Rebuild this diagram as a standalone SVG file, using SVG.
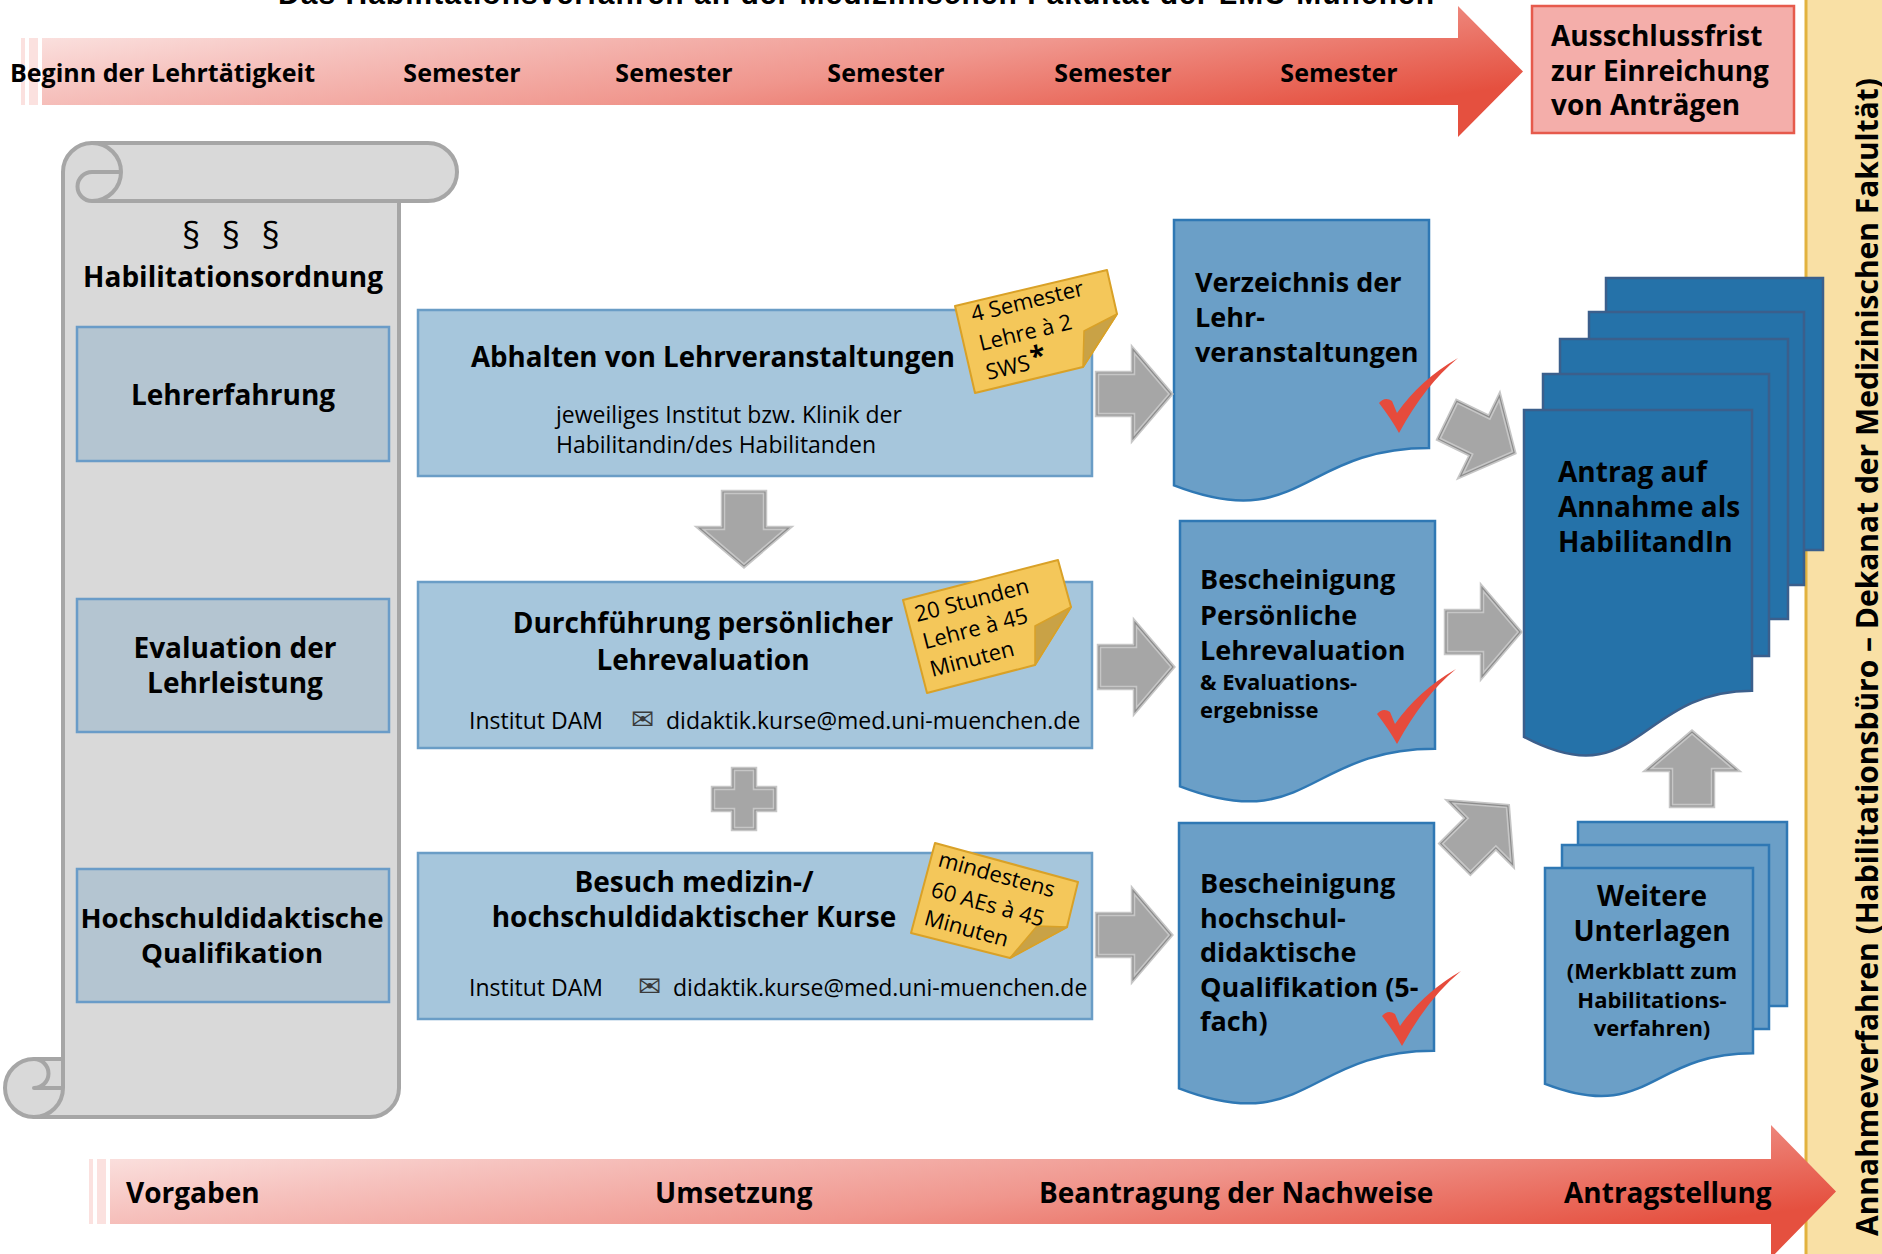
<svg xmlns="http://www.w3.org/2000/svg" width="1882" height="1254" viewBox="0 0 1882 1254">
<defs>
  <linearGradient id="barGrad" x1="0" y1="0" x2="1" y2="0.6">
    <stop offset="0" stop-color="#fdf0ef"/>
    <stop offset="0.3" stop-color="#f6c2be"/>
    <stop offset="0.62" stop-color="#f0968d"/>
    <stop offset="1" stop-color="#e5503f"/>
  </linearGradient>
  <path id="ga" d="M -36,-21 H 0 V -44.5 L 38,0 L 0,44.5 V 21 H -36 Z"/>
  <path id="chk" d="M -18,-29 Q -12,-36 -5,-31 L 0,-19 Q 23,-52 61,-74 Q 28,-47 2,1 Q -5,-12 -18,-29 Z"/>
</defs>
<style>
  text { font-family: "Open Sans", "Noto Sans", "DejaVu Sans", sans-serif; fill: #000; }
  .b { font-weight: 700; }
  .f28 { font-size: 28px; }
  .f27 { font-size: 27px; }
  .f25 { font-size: 25px; }
  .f23 { font-size: 23px; }
  .f22 { font-size: 22px; }
  .mid { text-anchor: middle; }
  .env { font-family: "DejaVu Sans", sans-serif; font-size: 28px; fill: #3a3a3a; }
  .bar { fill: url(#barGrad); }
  .stripe { fill: #fbe1df; }
  .scroll { fill: #d9d9d9; stroke: #a6a6a6; stroke-width: 4; stroke-linejoin: round; }
  .scrollline { fill: none; stroke: #a6a6a6; stroke-width: 4; stroke-linecap: round; stroke-linejoin: round; }
  .lbox { fill: #b4c5d1; stroke: #6a9cc8; stroke-width: 2.5; }
  .mbox { fill: #a6c6dc; stroke: #6a9dc6; stroke-width: 2.5; }
  .doc { fill: #6b9fc7; stroke: #2f78b4; stroke-width: 2.5; }
  .stack { fill: #2572a9; stroke: #3b5f8c; stroke-width: 2.5; }
  .note { fill: #f4c75a; stroke: #d9a127; stroke-width: 2; stroke-linejoin: round; }
  .fold { fill: #c9a246; stroke: #d9a127; stroke-width: 1.5; stroke-linejoin: round; }
  .chk { fill: #e64b3c; }
  .ga-o { fill: #a6a6a6; stroke: #c6c6c6; stroke-width: 4.5; stroke-linejoin: miter; }
  .ga-i { fill: none; stroke: #8d8d8d; stroke-width: 1.2; }
</style>

<rect x="0" y="0" width="1882" height="1254" fill="#ffffff"/>

<!-- right yellow band -->
<g id="annahmeverfahren-band">
  <rect x="1806" y="0" width="76" height="1254" fill="#f9e0a5"/>
  <line x1="1806" y1="0" x2="1806" y2="1254" stroke="#e2b23e" stroke-width="3"/>
</g>

<!-- title (cut at top) -->
<text x="278" y="4" style="font-family:'Liberation Sans','Arial',sans-serif;font-weight:700;font-size:30px" textLength="1156">Das Habilitationsverfahren an der Medizinischen Fakultät der LMU München</text>

<!-- top timeline -->
<g id="timeline-top">
  <rect class="stripe" x="21" y="38" width="4" height="67"/>
  <rect class="stripe" x="29" y="38" width="9" height="67"/>
  <path class="bar" d="M 42,38 H 1458 V 6 L 1523,71.5 L 1458,137 V 105 H 42 Z"/>
  <text class="b f25" x="10" y="82">Beginn der Lehrtätigkeit</text>
  <text class="b f25 mid" x="462" y="82">Semester</text>
  <text class="b f25 mid" x="674" y="82">Semester</text>
  <text class="b f25 mid" x="886" y="82">Semester</text>
  <text class="b f25 mid" x="1113" y="82">Semester</text>
  <text class="b f25 mid" x="1339" y="82">Semester</text>
</g>

<g id="ausschlussfrist">
  <rect x="1532" y="6" width="262" height="127" fill="#f4aeaa" stroke="#e65a4c" stroke-width="2.5"/>
  <text class="b f28" x="1551" y="46">Ausschlussfrist</text>
  <text class="b f28" x="1551" y="81">zur Einreichung</text>
  <text class="b f28" x="1551" y="115">von Anträgen</text>
</g>

<!-- scroll -->
<g id="habilitationsordnung">
  <path class="scroll" d="M 63,1059 L 63,172 A 29,29 0 0 1 92,143 L 428,143 A 29,29 0 0 1 428,201 L 399,201 L 399,1088 A 29,29 0 0 1 370,1117 L 34,1117 A 29,29 0 0 1 34,1059 Z"/>
  <path class="scrollline" d="M 92,143 A 29,29 0 0 1 92,201 A 14.5,14.5 0 0 1 92,172 L 121,172 M 92,201 L 399,201 M 34,1059 A 14.5,14.5 0 0 1 34,1088 L 63,1088 M 63,1059 L 63,1088 A 29,29 0 0 1 34,1117"/>
  <text class="mid" x="231" y="249" style="font-size:36px;word-spacing:12px">§ § §</text>
  <text class="b f28 mid" x="233" y="287">Habilitationsordnung</text>
</g>

<g id="lehrerfahrung">
  <rect class="lbox" x="77" y="327" width="312" height="134"/>
  <text class="b f28 mid" x="233" y="405">Lehrerfahrung</text>
</g>
<g id="evaluation-lehrleistung">
  <rect class="lbox" x="77" y="599" width="312" height="133"/>
  <text class="b f28 mid" x="235" y="658">Evaluation der</text>
  <text class="b f28 mid" x="235" y="693">Lehrleistung</text>
</g>
<g id="hochschuldidaktische-qualifikation">
  <rect class="lbox" x="77" y="869" width="312" height="133"/>
  <text class="b mid" x="232" y="928" style="font-size:27.6px">Hochschuldidaktische</text>
  <text class="b mid" x="232" y="963" style="font-size:27.6px">Qualifikation</text>
</g>

<!-- middle boxes -->
<g id="abhalten-lehrveranstaltungen">
  <rect class="mbox" x="418" y="310" width="674" height="166"/>
  <text class="b mid" x="713" y="367" style="font-size:27.7px">Abhalten von Lehrveranstaltungen</text>
  <text class="f23" x="556" y="423">jeweiliges Institut bzw. Klinik der</text>
  <text class="f23" x="556" y="453">Habilitandin/des Habilitanden</text>
  <polygon class="note" points="955,306 1107,270 1117,314 1083,367 975,393"/>
  <polygon class="fold" points="1117,314 1084,331 1083,367"/>
  <g transform="translate(973,322) rotate(-13.5)">
    <text class="f22" x="0" y="0">4 Semester</text>
    <text class="f22" x="1" y="30">Lehre à 2</text>
    <text class="f22" x="1" y="60">SWS<tspan style="font-weight:700;font-size:28px" dx="2" dy="-2">*</tspan></text>
  </g>
</g>

<g id="lehrevaluation">
  <rect class="mbox" x="418" y="582" width="674" height="166"/>
  <text class="b f28 mid" x="703" y="633">Durchführung persönlicher</text>
  <text class="b f28 mid" x="703" y="670">Lehrevaluation</text>
  <text class="f23" x="469" y="729">Institut DAM</text>
  <text class="env" x="631" y="729">✉</text>
  <text class="f23" x="666" y="729">didaktik.kurse@med.uni-muenchen.de</text>
  <polygon class="note" points="903,600 1058,560 1071,607 1035,665 927,693"/>
  <polygon class="fold" points="1071,607 1035,626 1035,665"/>
  <g transform="translate(917,622) rotate(-14.5)">
    <text class="f22" x="0" y="0">20 Stunden</text>
    <text class="f22" x="1" y="28.5">Lehre à 45</text>
    <text class="f22" x="1" y="57">Minuten</text>
  </g>
</g>

<g id="kurse">
  <rect class="mbox" x="418" y="853" width="674" height="166"/>
  <text class="b f28 mid" x="694" y="892">Besuch medizin-/</text>
  <text class="b f28 mid" x="694" y="927">hochschuldidaktischer Kurse</text>
  <text class="f23" x="469" y="996">Institut DAM</text>
  <text class="env" x="638" y="996">✉</text>
  <text class="f23" x="673" y="996">didaktik.kurse@med.uni-muenchen.de</text>
  <polygon class="note" points="935,843 1078,882 1067,927 1010,958 911,933"/>
  <polygon class="fold" points="1067,927 1037,926 1010,958"/>
  <g transform="translate(937,866) rotate(15.3)">
    <text class="f22" x="0" y="0">mindestens</text>
    <text class="f22" x="1" y="31">60 AEs à 45</text>
    <text class="f22" x="2" y="60">Minuten</text>
  </g>
</g>

<!-- documents -->
<g id="verzeichnis-lehrveranstaltungen">
  <path class="doc" d="M 1174,220 H 1429 V 448 C 1301.5,448 1301.5,534.5 1174,485.3 Z"/>
  <text class="b f27" x="1195" y="292">Verzeichnis der</text>
  <text class="b f27" x="1195" y="327">Lehr-</text>
  <text class="b f27" x="1195" y="362">veranstaltungen</text>
  <use href="#chk" class="chk" transform="translate(1397,432)"/>
</g>
<g id="bescheinigung-lehrevaluation">
  <path class="doc" d="M 1180,521 H 1435 V 748.8 C 1307.5,748.8 1307.5,835.5 1180,786.3 Z"/>
  <text class="b f27" x="1200" y="589">Bescheinigung</text>
  <text class="b f27" x="1200" y="625">Persönliche</text>
  <text class="b f27" x="1200" y="660">Lehrevaluation</text>
  <text class="b f22" x="1200" y="690">&amp; Evaluations-</text>
  <text class="b f22" x="1200" y="718">ergebnisse</text>
  <use href="#chk" class="chk" transform="translate(1395,743)"/>
</g>
<g id="bescheinigung-hochschuldidaktik">
  <path class="doc" d="M 1179,823 H 1434 V 1050.8 C 1306.5,1050.8 1306.5,1137.5 1179,1088.3 Z"/>
  <text class="b f27" x="1200" y="893">Bescheinigung</text>
  <text class="b f27" x="1200" y="928">hochschul-</text>
  <text class="b f27" x="1200" y="962">didaktische</text>
  <text class="b f27" x="1200" y="997">Qualifikation (5-</text>
  <text class="b f27" x="1200" y="1031">fach)</text>
  <use href="#chk" class="chk" transform="translate(1400,1045)"/>
</g>

<!-- Antrag stack -->
<g id="antrag-habilitandin">
  <rect class="stack" x="1606" y="278" width="217" height="272"/>
  <rect class="stack" x="1589" y="312" width="215" height="273"/>
  <rect class="stack" x="1560" y="339" width="228" height="280"/>
  <rect class="stack" x="1543" y="374" width="226" height="282"/>
  <path class="stack" d="M 1524,410 H 1752 V 690.7 C 1638,690.7 1638,797.6 1524,736.9 Z"/>
  <text class="b f28" x="1558" y="482">Antrag auf</text>
  <text class="b f28" x="1558" y="517">Annahme als</text>
  <text class="b f28" x="1558" y="552">HabilitandIn</text>
</g>

<!-- Weitere Unterlagen stack -->
<g id="weitere-unterlagen">
  <rect class="doc" x="1578" y="822" width="209" height="184"/>
  <rect class="doc" x="1562" y="845" width="207" height="184"/>
  <path class="doc" d="M 1545,868 H 1753 V 1053.3 C 1649,1053.3 1649,1123.8 1545,1083.8 Z"/>
  <text class="b f28 mid" x="1652" y="906">Weitere</text>
  <text class="b f28 mid" x="1652" y="941">Unterlagen</text>
  <text class="b f22 mid" x="1652" y="979">(Merkblatt zum</text>
  <text class="b f22 mid" x="1652" y="1008">Habilitations-</text>
  <text class="b f22 mid" x="1652" y="1036">verfahren)</text>
</g>

<!-- connectors -->
<g id="connectors">
  <g transform="translate(744,528) rotate(90)"><use href="#ga" class="ga-o"/><use href="#ga" class="ga-i"/></g>
  <g transform="translate(1133,394)"><use href="#ga" class="ga-o"/><use href="#ga" class="ga-i"/></g>
  <g transform="translate(1135,667)"><use href="#ga" class="ga-o"/><use href="#ga" class="ga-i"/></g>
  <g transform="translate(1133,935)"><use href="#ga" class="ga-o"/><use href="#ga" class="ga-i"/></g>
  <g transform="translate(1480,436) rotate(26)"><use href="#ga" class="ga-o"/><use href="#ga" class="ga-i"/></g>
  <g transform="translate(1482,632)"><use href="#ga" class="ga-o"/><use href="#ga" class="ga-i"/></g>
  <g transform="translate(1481,833) rotate(-45)"><use href="#ga" class="ga-o"/><use href="#ga" class="ga-i"/></g>
  <g transform="translate(1692,770) rotate(-90)"><use href="#ga" class="ga-o"/><use href="#ga" class="ga-i"/></g>
  <path class="ga-o" d="M 733,769 H 755 V 788 H 775 V 810 H 755 V 829 H 733 V 810 H 713 V 788 H 733 Z"/>
  <path class="ga-i" d="M 733,769 H 755 V 788 H 775 V 810 H 755 V 829 H 733 V 810 H 713 V 788 H 733 Z"/>
</g>

<!-- bottom timeline -->
<g id="timeline-bottom">
  <rect class="stripe" x="89" y="1159" width="4" height="65"/>
  <rect class="stripe" x="97" y="1159" width="9" height="65"/>
  <path class="bar" d="M 110,1159 H 1771 V 1125 L 1836,1191.5 L 1771,1258 V 1224 H 110 Z"/>
  <text class="b f28" x="126" y="1203">Vorgaben</text>
  <text class="b f28" x="655" y="1203">Umsetzung</text>
  <text class="b f28" x="1039" y="1203">Beantragung der Nachweise</text>
  <text class="b f28" x="1564" y="1203">Antragstellung</text>
</g>

<text class="b" transform="translate(1878,1236) rotate(-90)" style="font-size:30px" textLength="1158">Annahmeverfahren (Habilitationsbüro – Dekanat der Medizinischen Fakultät)</text>
</svg>
